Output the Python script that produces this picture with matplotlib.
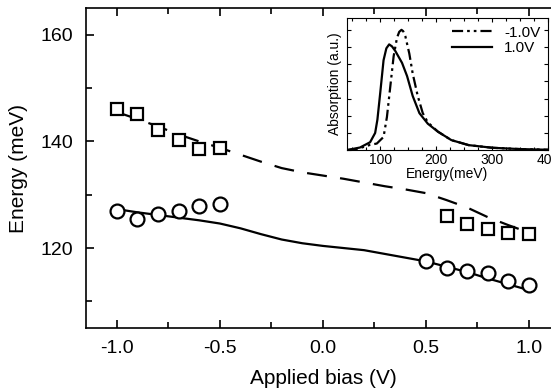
import numpy as np
import matplotlib
matplotlib.use("Agg")
import matplotlib.pyplot as plt
from matplotlib.ticker import MultipleLocator

plt.rcParams['font.family'] = ['Liberation Sans', 'DejaVu Sans']

# measured points
bias_neg = [-1.0, -0.9, -0.8, -0.7, -0.6, -0.5]
bias_pos = [0.5, 0.6, 0.7, 0.8, 0.9, 1.0]
sq_neg = [146.0, 145.2, 142.1, 140.2, 138.6, 138.7]
sq_pos = [126.0, 124.5, 123.6, 122.9, 122.7]
ci_neg = [126.9, 125.5, 126.4, 127.0, 127.9, 128.3]
ci_pos = [117.6, 116.3, 115.6, 115.3, 113.8, 113.0]

# calculated curves
bias_calc = [-1.0, -0.9, -0.8, -0.7, -0.6, -0.5, -0.4, -0.3, -0.2, -0.1, 0.0,
             0.1, 0.2, 0.3, 0.4, 0.5, 0.6, 0.7, 0.8, 0.9, 1.0]
calc_upper = [145.5, 144.2, 142.8, 141.3, 140.0, 138.8, 137.5, 136.2, 135.0, 134.2, 133.6,
              133.0, 132.3, 131.6, 131.0, 130.3, 129.0, 127.6, 125.8, 124.3, 122.9]
calc_lower = [127.3, 126.7, 126.2, 125.7, 125.2, 124.6, 123.7, 122.6, 121.6, 120.9, 120.4,
              120.0, 119.6, 118.9, 118.2, 117.5, 116.5, 115.5, 114.3, 113.2, 112.1]

# inset absorption spectra
e_neg = [40, 60, 82, 94, 106, 112, 118, 124, 130, 134, 138, 141, 145, 152, 158, 167, 176, 185,
         203, 227, 258, 300, 350, 400]
abs_neg = [0.0, 0.01, 0.04, 0.05, 0.10, 0.25, 0.48, 0.71, 0.85, 0.895, 0.91, 0.90, 0.86, 0.73,
           0.58, 0.41, 0.28, 0.21, 0.14, 0.076, 0.038, 0.018, 0.008, 0.003]
e_pos = [40, 64, 82, 91, 95, 100, 106, 111, 116, 121, 127, 139, 148, 158, 170, 185,
         203, 227, 258, 300, 350, 400]
abs_pos = [0.0, 0.02, 0.06, 0.13, 0.23, 0.43, 0.68, 0.77, 0.80, 0.785, 0.75, 0.66, 0.56, 0.41,
           0.28, 0.20, 0.14, 0.076, 0.038, 0.018, 0.008, 0.003]

fig = plt.figure(figsize=(5.51, 3.9), dpi=100)
ax = fig.add_axes([0.156, 0.159, 0.86, 0.82])

ax.plot(bias_calc, calc_upper, color='black', lw=1.6, dashes=(9, 6))
ax.plot(bias_calc, calc_lower, color='black', lw=1.6)
ax.plot(bias_neg + bias_pos[1:], sq_neg + sq_pos, 's', ms=9, mfc='white', mec='black', mew=1.6)
ax.plot(bias_neg + bias_pos, ci_neg + ci_pos, 'o', ms=10, mfc='white', mec='black', mew=1.6)

ax.set_xlim(-1.15, 1.15)
ax.set_ylim(105, 165)
ax.set_xticks([-1.0, -0.5, 0.0, 0.5, 1.0])
ax.set_xticklabels(['-1.0', '-0.5', '0.0', '0.5', '1.0'])
ax.set_yticks([120, 140, 160])
ax.xaxis.set_minor_locator(MultipleLocator(0.25))
ax.yaxis.set_minor_locator(MultipleLocator(10))
ax.tick_params(which='both', direction='in', top=True, right=True, labelsize=14, width=1.2)
ax.tick_params(which='major', length=6, pad=9)
ax.tick_params(which='minor', length=4)
for s in ax.spines.values():
    s.set_linewidth(1.2)
ax.set_xlabel('Applied bias (V)', fontsize=15, labelpad=8)
ax.set_ylabel('Energy (meV)', fontsize=15, labelpad=9)

# inset
ins = fig.add_axes([0.629, 0.615, 0.366, 0.339])
ins.plot(e_neg, abs_neg, color='black', lw=1.6, dashes=(5, 1.8, 1.2, 1.8, 1.2, 1.8), label='-1.0V')
ins.plot(e_pos, abs_pos, color='black', lw=1.6, label='1.0V')
ins.set_xlim(40, 400)
ins.set_ylim(0, 1.0)
ins.set_xticks([100, 200, 300, 400])
ins.xaxis.set_minor_locator(MultipleLocator(25))
ins.yaxis.set_major_locator(MultipleLocator(0.13))
ins.set_yticklabels([])
ins.tick_params(which='both', direction='in', top=True, right=True, labelsize=10, pad=2, width=0.8)
ins.tick_params(which='major', length=3)
ins.tick_params(which='minor', length=2)
ins.tick_params(axis='y', left=True, labelleft=False)
ins.set_xlabel('Energy(meV)', fontsize=10, labelpad=0)
ins.set_ylabel('Absorption (a.u.)', fontsize=10, labelpad=3)
ins.legend(loc='upper right', frameon=False, fontsize=11, handlelength=2.6,
           borderaxespad=0.1, labelspacing=0.1, handletextpad=0.8)

fig.savefig('out.png', dpi=100)
